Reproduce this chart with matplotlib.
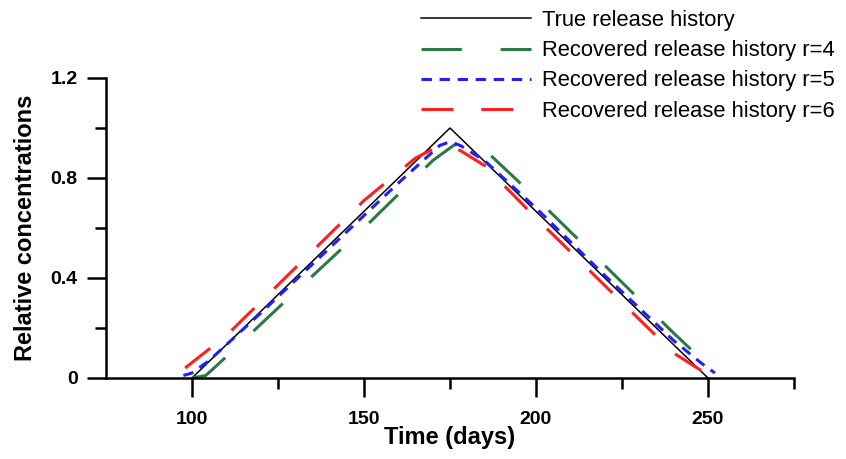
import matplotlib
matplotlib.use("Agg")
import matplotlib.pyplot as plt
from matplotlib.ticker import MultipleLocator, FixedLocator, FuncFormatter

plt.rcParams['font.family'] = ['Liberation Sans', 'DejaVu Sans']
plt.rcParams['lines.scale_dashes'] = False

# ---- data ----
true_t = [100, 175, 250]
true_c = [0.0, 1.0, 0.0]

r4_t = [100, 104, 108, 125, 150, 170, 176, 179, 183, 200, 220, 240, 250, 253]
r4_c = [0.0, 0.01, 0.06, 0.28, 0.60, 0.87, 0.93, 0.945, 0.94, 0.72, 0.45, 0.18, 0.05, 0.02]

r5_t = [97.5, 100, 105, 120, 140, 160, 168, 172, 175, 178, 185, 200, 220, 240, 248, 252]
r5_c = [0.01, 0.02, 0.07, 0.26, 0.52, 0.78, 0.88, 0.93, 0.945, 0.93, 0.87, 0.68, 0.41, 0.15, 0.06, 0.02]

r6_t = [98, 110, 130, 150, 165, 172, 178, 185, 200, 220, 240, 248]
r6_c = [0.04, 0.17, 0.44, 0.71, 0.88, 0.93, 0.91, 0.85, 0.64, 0.37, 0.10, 0.03]

x_major = [100, 150, 200, 250]
x_minor = [125, 175, 225, 275]

labels = ["True release history",
          "Recovered release history r=4",
          "Recovered release history r=5",
          "Recovered release history r=6"]

# ---- plot ----
fig = plt.figure(figsize=(8.46, 4.59), dpi=100)
ax = fig.add_axes([106 / 846, 81 / 459, 688 / 846, 300 / 459])

ax.plot(true_t, true_c, color='black', lw=1.1, label=labels[0], clip_on=False)
ax.plot(r4_t, r4_c, color='#2a7a45', lw=2.2, dashes=(29, 28), label=labels[1], clip_on=False)
ax.plot(r5_t, r5_c, color='#1f1fff', lw=2.2, dashes=(7.5, 5.5), label=labels[2], clip_on=False)
ax.plot(r6_t, r6_c, color='#ff1f1f', lw=2.2, dashes=(23, 20), label=labels[3], clip_on=False)

ax.set_xlim(75, 275)
ax.set_ylim(0, 1.2)
ax.xaxis.set_major_locator(FixedLocator(x_major))
ax.xaxis.set_minor_locator(FixedLocator(x_minor))
ax.yaxis.set_major_locator(MultipleLocator(0.4))
ax.yaxis.set_minor_locator(MultipleLocator(0.2))
ax.xaxis.set_major_formatter(FuncFormatter(lambda v, p: f'{v:.0f}'))
ax.yaxis.set_major_formatter(FuncFormatter(lambda v, p: '0' if abs(v) < 1e-9 else f'{v:.1f}'))

for s in ['top', 'right']:
    ax.spines[s].set_visible(False)
for s in ['left', 'bottom']:
    ax.spines[s].set_linewidth(1.8)

ax.tick_params(which='major', length=13.5, width=1.8, direction='out', pad=7,
               labelsize=14)
ax.tick_params(which='minor', length=8, width=1.8, direction='out')
ax.tick_params(axis='x', which='major', pad=10)
for lab in ax.get_xticklabels() + ax.get_yticklabels():
    lab.set_fontweight('bold')

ax.set_xlabel("Time (days)", fontsize=17, fontweight='bold', labelpad=-1)
ax.set_ylabel("Relative concentrations", fontsize=17, fontweight='bold', labelpad=10)

fig.legend(loc='upper left', bbox_to_anchor=(421 / 846, 1 - 10 / 459),
           frameon=False, fontsize=15.8, handlelength=5.0, handletextpad=0.5,
           labelspacing=0.42, borderpad=0, borderaxespad=0)

fig.savefig("out.png", dpi=100)
